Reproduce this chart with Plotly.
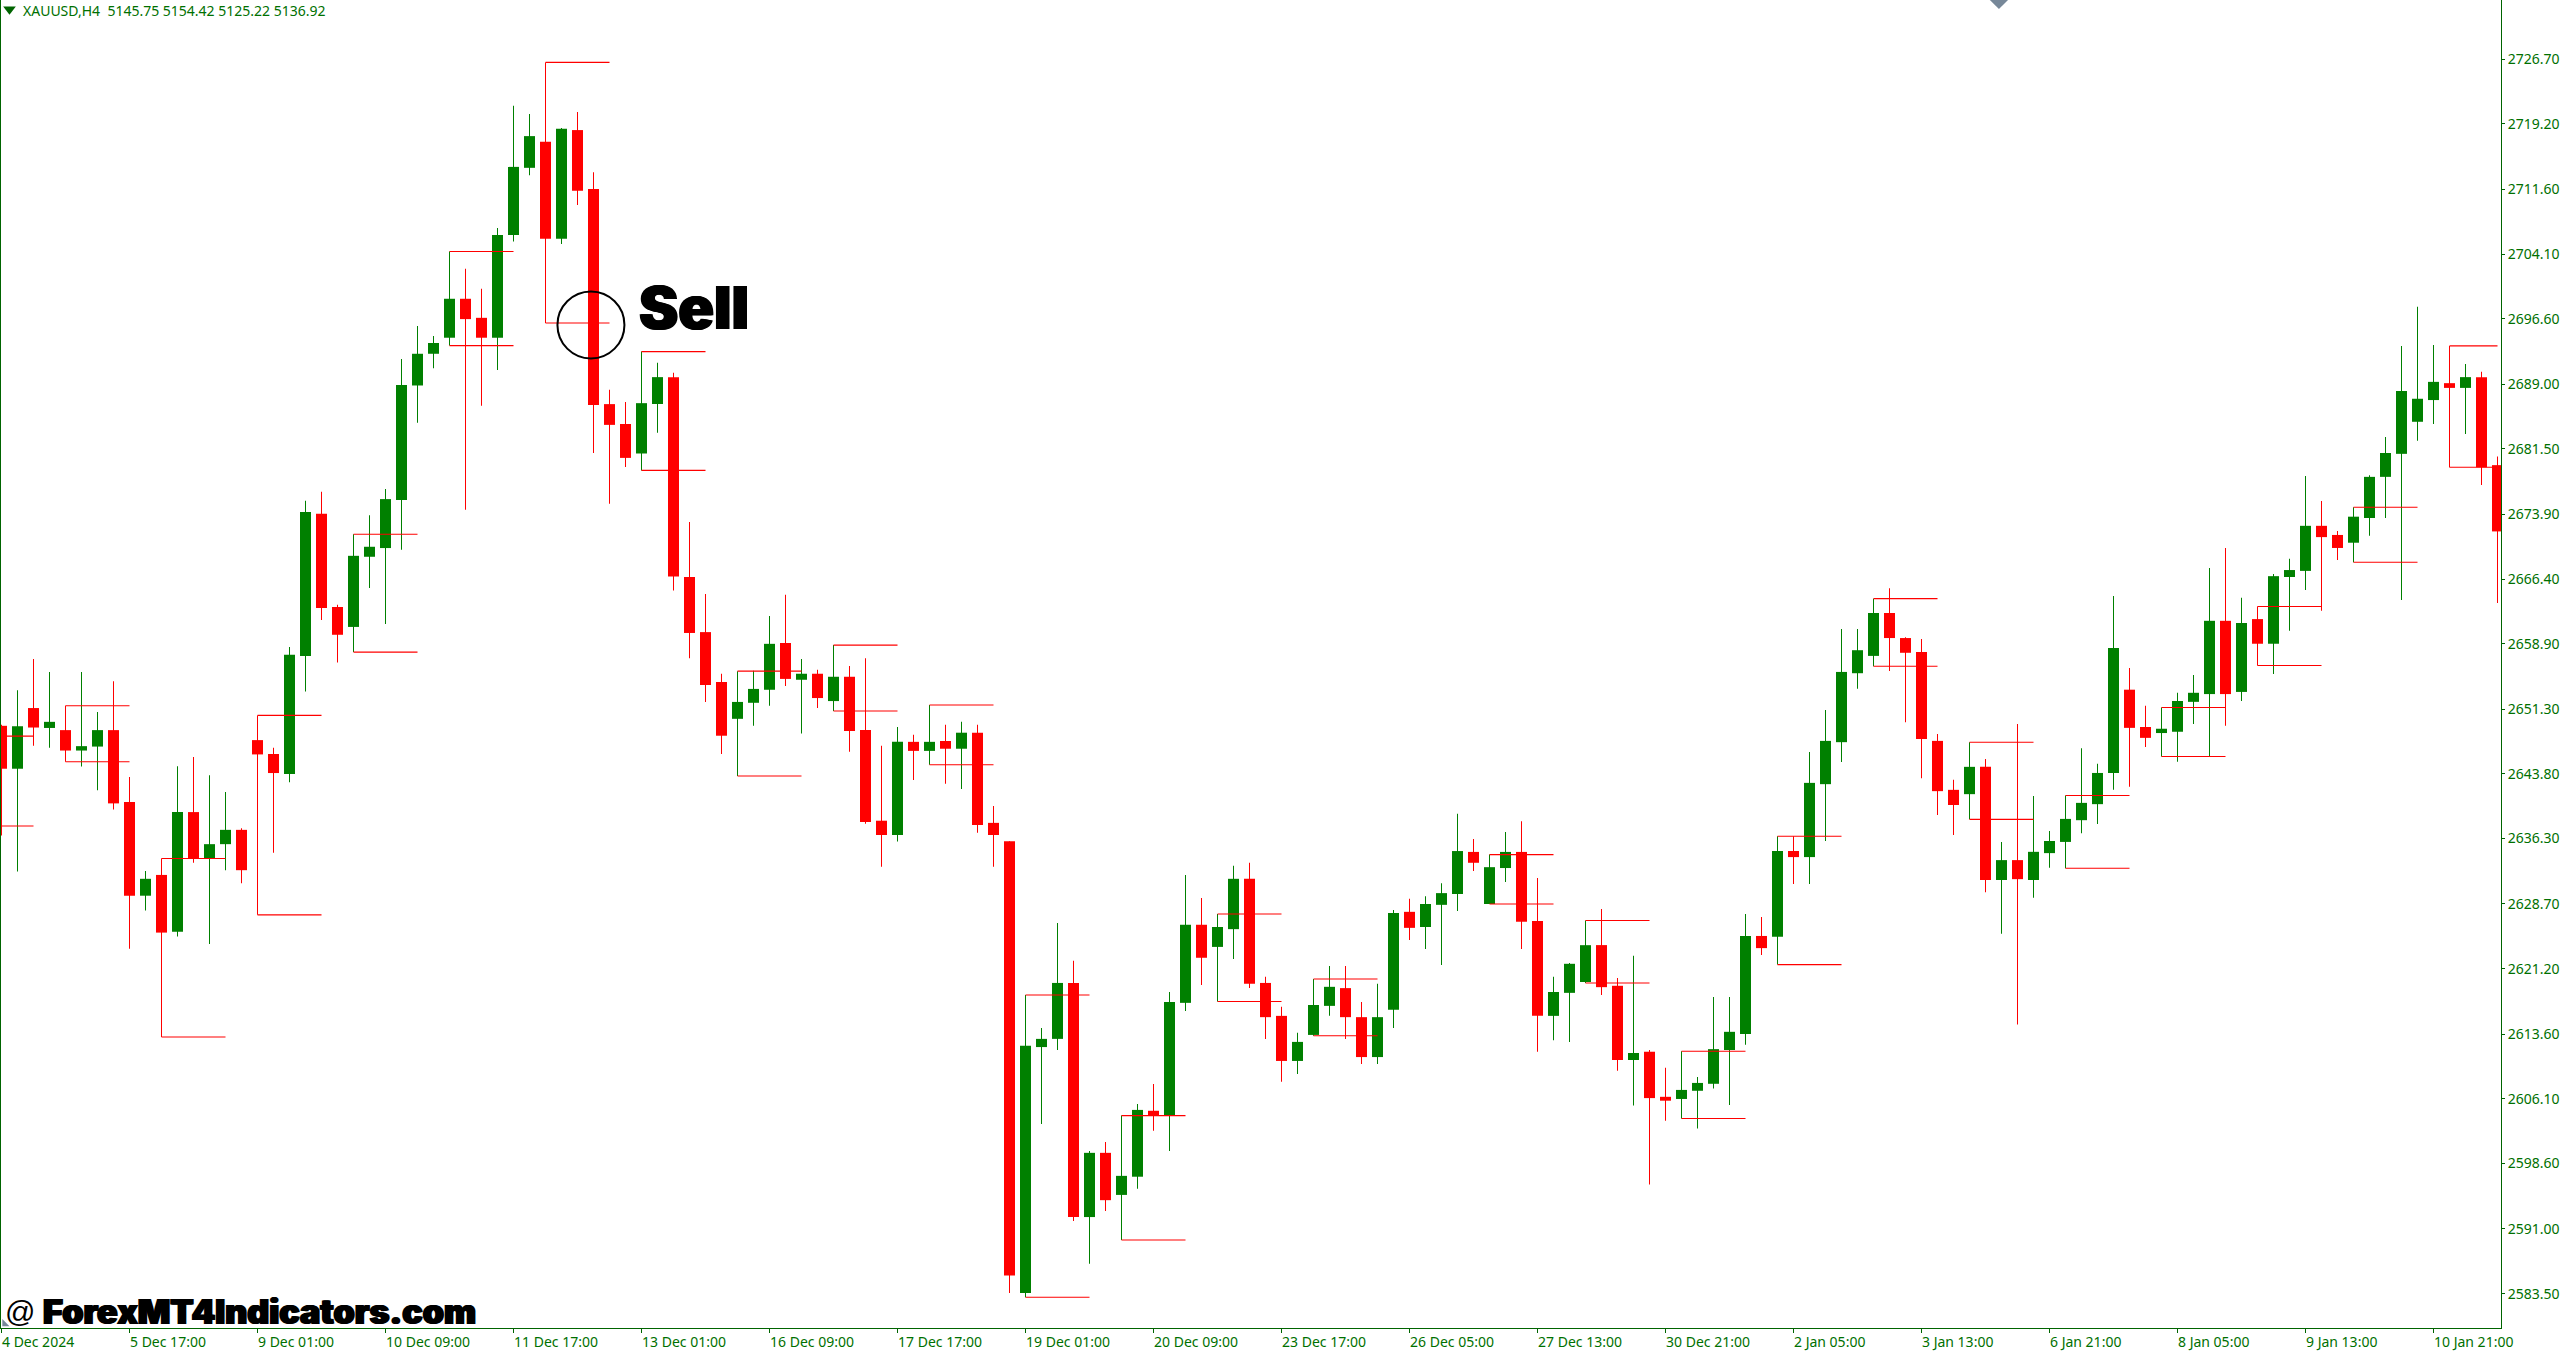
import plotly.graph_objects as go

opens = [
 2649.37,2644.39,2651.43,2649.12,2648.87,2646.50,2646.96,2648.87,2640.52,2629.66,
 2632.07,2625.48,2639.36,2633.98,2635.64,2637.30,2647.71,2646.10,2643.79,2657.47,
 2673.97,2663.15,2660.84,2668.98,2669.99,2675.57,2688.85,2692.53,2694.39,2698.91,
 2696.70,2694.39,2706.31,2714.10,2717.12,2705.86,2718.48,2711.64,2686.69,2684.38,
 2680.96,2686.70,2689.82,2666.63,2660.24,2654.45,2650.18,2652.04,2653.55,2658.98,
 2654.71,2655.41,2652.24,2655.06,2648.87,2638.36,2636.70,2647.51,2646.46,2647.61,
 2646.71,2648.57,2638.11,2635.99,2583.58,2612.10,2613.05,2619.54,2592.38,2599.83,
 2594.95,2597.06,2604.71,2604.15,2617.23,2626.29,2623.72,2625.78,2631.62,2619.54,
 2615.72,2610.49,2613.51,2616.88,2618.94,2615.57,2610.94,2616.43,2627.79,2626.03,
 2628.60,2629.86,2634.74,2628.70,2632.87,2634.74,2626.74,2615.72,2618.39,2619.65,
 2623.93,2619.21,2610.60,2611.56,2606.33,2606.08,2607.03,2607.84,2611.76,2613.62,
 2624.99,2624.89,2634.85,2634.14,2642.60,2647.47,2655.47,2657.48,2662.46,2659.55,
 2657.94,2647.62,2641.94,2641.44,2644.61,2631.48,2633.79,2631.48,2634.60,2635.90,
 2638.42,2640.28,2643.90,2653.56,2649.23,2648.53,2648.68,2652.15,2653.05,2661.55,
 2653.30,2661.75,2658.89,2666.63,2667.34,2672.57,2671.51,2670.61,2673.48,2678.25,
 2680.92,2684.64,2687.16,2689.12,2688.57,2689.82,2679.61]
highs = [
 2649.50,2653.50,2657.11,2655.60,2651.69,2655.60,2650.98,2654.55,2643.44,2632.52,
 2633.98,2644.69,2645.75,2643.64,2641.68,2637.50,2650.58,2646.81,2658.52,2675.47,
 2676.53,2663.40,2671.60,2673.81,2676.83,2691.92,2695.74,2694.59,2704.40,2702.38,
 2700.07,2707.11,2721.30,2720.34,2726.33,2718.73,2720.59,2713.60,2688.35,2686.94,
 2692.78,2691.48,2690.32,2673.02,2664.67,2655.41,2655.71,2655.76,2662.10,2664.57,
 2657.12,2655.86,2658.73,2656.32,2657.22,2647.06,2649.22,2648.32,2651.79,2649.48,
 2649.83,2649.48,2640.07,2635.99,2618.14,2614.31,2626.49,2622.11,2600.03,2601.08,
 2604.15,2605.51,2607.83,2618.49,2632.07,2629.40,2627.54,2633.13,2633.48,2620.25,
 2616.78,2613.76,2619.99,2621.51,2621.51,2617.33,2619.44,2627.99,2629.30,2629.60,
 2631.11,2639.16,2636.24,2634.43,2637.05,2638.31,2631.72,2620.25,2621.86,2626.79,
 2628.11,2620.11,2622.68,2611.76,2609.70,2611.61,2608.64,2617.90,2617.90,2627.55,
 2627.20,2636.56,2636.56,2646.32,2651.20,2660.60,2660.60,2664.12,2665.33,2659.65,
 2659.45,2648.43,2643.10,2647.47,2645.51,2635.90,2649.59,2641.24,2637.16,2641.29,
 2646.77,2644.96,2664.43,2656.07,2651.70,2651.49,2653.20,2655.27,2667.69,2670.00,
 2664.22,2663.21,2666.99,2668.75,2678.35,2675.44,2671.97,2674.73,2678.45,2682.88,
 2693.44,2697.97,2693.54,2693.44,2691.33,2690.43,2680.62]
lows = [
 2636.65,2632.47,2647.06,2646.81,2645.20,2644.64,2641.88,2639.67,2623.52,2627.94,
 2613.26,2624.93,2633.48,2624.07,2632.62,2631.11,2627.44,2634.63,2642.83,2653.35,
 2661.64,2656.71,2657.92,2665.36,2661.19,2669.79,2684.53,2690.86,2693.48,2674.42,
 2686.49,2690.66,2705.55,2713.25,2696.10,2705.25,2709.78,2681.01,2675.12,2679.40,
 2679.00,2683.38,2665.07,2657.22,2652.14,2646.11,2643.54,2649.37,2651.69,2654.00,
 2648.47,2651.44,2651.09,2646.36,2638.01,2633.03,2635.95,2643.09,2644.85,2642.64,
 2642.03,2636.95,2633.03,2583.58,2583.08,2603.19,2611.75,2591.93,2586.95,2593.09,
 2589.72,2595.65,2602.39,2600.03,2616.28,2619.29,2617.38,2622.31,2618.94,2613.05,
 2608.08,2608.98,2613.41,2615.72,2613.05,2610.14,2610.14,2614.31,2624.52,2623.47,
 2621.61,2627.89,2632.52,2628.70,2631.26,2623.47,2611.55,2612.90,2612.70,2619.54,
 2618.15,2609.35,2605.32,2596.17,2603.56,2603.81,2602.66,2607.28,2605.37,2612.36,
 2622.78,2621.67,2631.03,2631.03,2636.01,2645.16,2653.66,2656.28,2655.72,2649.79,
 2643.30,2639.02,2636.71,2638.52,2630.07,2625.24,2614.73,2629.42,2632.89,2632.84,
 2636.91,2637.97,2641.94,2642.29,2646.92,2645.81,2645.21,2649.58,2645.81,2649.38,
 2652.25,2656.37,2655.37,2660.40,2665.13,2662.71,2668.60,2668.34,2671.41,2673.48,
 2663.97,2682.43,2684.39,2679.36,2683.23,2677.30,2663.62]
closes = [
 2644.39,2649.32,2649.17,2649.83,2646.50,2647.01,2648.87,2640.37,2629.66,2631.62,
 2625.38,2639.36,2633.98,2635.64,2637.30,2632.62,2646.05,2643.89,2657.62,2674.17,
 2663.05,2659.93,2669.09,2670.14,2675.67,2688.90,2692.53,2693.78,2698.91,2696.55,
 2694.39,2706.31,2714.21,2717.78,2705.86,2718.63,2711.44,2686.59,2684.28,2680.45,
 2686.80,2689.82,2666.68,2660.14,2654.10,2648.22,2652.14,2653.65,2658.88,2654.81,
 2655.41,2652.59,2655.06,2648.77,2638.21,2636.70,2647.51,2646.46,2647.51,2646.71,
 2648.57,2637.86,2636.70,2585.59,2612.25,2613.05,2619.54,2592.38,2599.83,2594.34,
 2597.16,2604.81,2604.15,2617.33,2626.29,2622.46,2626.03,2631.62,2619.44,2615.57,
 2610.49,2612.70,2616.98,2619.09,2615.57,2610.94,2615.57,2627.64,2625.93,2628.70,
 2629.96,2634.84,2633.48,2632.97,2634.74,2626.64,2615.72,2618.49,2621.76,2623.92,
 2619.05,2610.60,2611.41,2606.18,2605.88,2607.13,2607.94,2611.86,2613.87,2624.99,
 2623.58,2634.85,2634.14,2642.75,2647.62,2655.62,2658.14,2662.46,2659.55,2657.84,
 2647.83,2641.79,2640.18,2644.61,2631.48,2633.79,2631.58,2634.75,2636.01,2638.57,
 2640.43,2643.90,2658.39,2649.13,2647.97,2649.03,2652.25,2653.20,2661.55,2653.05,
 2661.30,2658.89,2666.73,2667.44,2672.57,2671.26,2670.00,2673.63,2678.25,2681.02,
 2688.21,2687.31,2689.27,2688.57,2689.82,2679.36,2671.92]

# previous-session high/low indicator: bars where it starts, each lasting 4 bars
pivot_bars = [4,10,16,22,28,34,40,46,52,58,64,70,76,82,93,99,105,111,117,123,129,135,141,147,153]
offchart_start = -2
offchart_high = 2648.17
offchart_low = 2637.75
pivot_span = 4

price_ticks = [2726.70,2719.20,2711.60,2704.10,2696.60,2689.00,2681.50,2673.90,2666.40,2658.90,
               2651.30,2643.80,2636.30,2628.70,2621.20,2613.60,2606.10,2598.60,2591.00,2583.50]
time_labels = ["4 Dec 2024","5 Dec 17:00","9 Dec 01:00","10 Dec 09:00","11 Dec 17:00","13 Dec 01:00",
               "16 Dec 09:00","17 Dec 17:00","19 Dec 01:00","20 Dec 09:00","23 Dec 17:00","26 Dec 05:00",
               "27 Dec 13:00","30 Dec 21:00","2 Jan 05:00","3 Jan 13:00","6 Jan 21:00","8 Jan 05:00",
               "9 Jan 13:00","10 Jan 21:00"]
label_every = 8
header = "XAUUSD,H4\u00a0\u00a05145.75 5154.42 5125.22 5136.92"
sell_bar, sell_price = 36.84, 2695.87

GREEN, RED, AXIS = "#008000", "#ff0000", "#006400"
TEXT_GREEN = "#007000"
FONT = "Noto Sans"
EMBOLDEN = "1px 0 0 #000, -1px 0 0 #000"

n = len(opens)
bars = list(range(n))
colors = [GREEN if c >= o else RED for o, c in zip(opens, closes)]

fig = go.Figure()
fig.add_trace(go.Bar(x=bars, base=lows, y=[h - l for h, l in zip(highs, lows)], width=1/16,
                     marker=dict(color=colors, line=dict(width=0)), name="wick", hoverinfo="skip"))
fig.add_trace(go.Bar(x=bars, base=[min(o, c) for o, c in zip(opens, closes)],
                     y=[abs(o - c) for o, c in zip(opens, closes)], width=11/16,
                     marker=dict(color=colors, line=dict(width=0)), name="body", hoverinfo="skip"))

lx, ly = [], []
def seg(start, level):
    lx.extend([start, min(start + pivot_span, n - 1), None])
    ly.extend([level, level, None])
seg(offchart_start, offchart_high)
seg(offchart_start, offchart_low)
for p in pivot_bars:
    seg(p, highs[p])
    seg(p, lows[p])
fig.add_trace(go.Scatter(x=lx, y=ly, mode="lines", line=dict(color=RED, width=1.1), name="levels", hoverinfo="skip"))

fig.add_trace(go.Scatter(x=[sell_bar], y=[sell_price], mode="markers", hoverinfo="skip",
                         marker=dict(symbol="circle-open", size=67, color="#000000", line=dict(color="#000000", width=2))))
# chart furniture: header triangle, top-edge diamond, corner shift marker
fig.add_trace(go.Scatter(x=[0.5], y=[2732.5], mode="markers", hoverinfo="skip",
                         marker=dict(symbol="triangle-down", size=11, color="#006400")))
fig.add_trace(go.Scatter(x=[124.84], y=[2733.57], mode="markers", hoverinfo="skip",
                         marker=dict(symbol="diamond", size=14, color="#778899")))
fig.add_trace(go.Scatter(x=[0.2], y=[2580.0], mode="markers", hoverinfo="skip",
                         marker=dict(symbol="triangle-sw", size=8, color="#778899")))

ann = []
for k, t in enumerate(time_labels):
    ann.append(dict(x=k * label_every, xref="x", y=0, yref="paper", yshift=-13, xshift=-1, text=t, showarrow=False,
                    xanchor="left", yanchor="middle", borderpad=0,
                    font=dict(family=FONT, size=14, color=TEXT_GREEN)))
ann.append(dict(x=1.25, xref="x", xanchor="left", y=2732.4, yref="y", text=header, showarrow=False,
                yanchor="middle", borderpad=0,
                font=dict(family=FONT, size=14, color=TEXT_GREEN)))
ann.append(dict(x=39.78, xref="x", y=2697.84, yref="y", text="Sell", showarrow=False, xanchor="left",
                yanchor="middle", borderpad=0,
                font=dict(family="Inter", size=59, color="#000000", weight=900, shadow=EMBOLDEN)))
ann.append(dict(x=0.16, xref="x", y=2581.37, yref="y", text="@", showarrow=False, xanchor="left",
                yanchor="middle", borderpad=0, font=dict(family="Liberation Sans", size=30, color="#000000")))
ann.append(dict(x=2.53, xref="x", y=2581.37, yref="y", text="ForexMT4Indicators.com", showarrow=False, xanchor="left",
                yanchor="middle", borderpad=0,
                font=dict(family="Inter", size=34, color="#000000", weight=900, shadow=EMBOLDEN)))

fig.update_layout(
    width=2564, height=1352, template="none", showlegend=False, barmode="overlay",
    margin=dict(l=1, r=63, t=0, b=24, pad=0),
    paper_bgcolor="#ffffff", plot_bgcolor="#ffffff", annotations=ann,
    xaxis=dict(range=[-0.03125, 156.21875], showgrid=False, zeroline=False, showline=True, linecolor=AXIS, linewidth=1,
               ticks="outside", ticklen=4, tickwidth=1, tickcolor=AXIS, showticklabels=False,
               tickmode="array", tickvals=[k * label_every for k in range(len(time_labels))]),
    yaxis=dict(range=[2579.51, 2733.57], side="right", showgrid=False, zeroline=False, showline=True, mirror=True,
               linecolor=AXIS, linewidth=1, ticks="outside", ticklen=3, tickwidth=1, tickcolor=AXIS,
               tickmode="array", tickvals=price_ticks, ticktext=[f"{v:.2f}" for v in price_ticks],
               tickfont=dict(family=FONT, size=14, color=TEXT_GREEN)),
)
fig.write_html("out.html", config=dict(displayModeBar=False),
               post_script="document.body.style.margin='0';document.body.style.overflow='hidden';")
